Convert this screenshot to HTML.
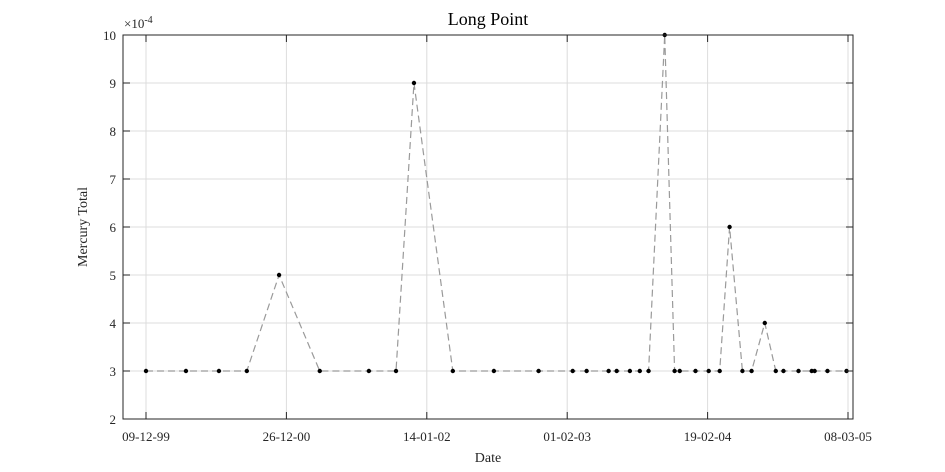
<!DOCTYPE html>
<html><head><meta charset="utf-8"><style>
body{margin:0;background:#fff}
svg{display:block;font-family:"Liberation Serif",serif}
</style></head><body>
<svg id="chart" width="945" height="472" viewBox="0 0 945 472" xmlns="http://www.w3.org/2000/svg">
<rect x="0" y="0" width="945" height="472" fill="#fff"/>
<g id="grid"></g>
<g id="series"></g>
<rect x="123" y="35" width="730" height="384" fill="none" stroke="#262626" stroke-width="1"/>
<g id="ticks"></g>
<text x="488" y="25" text-anchor="middle" font-size="18" fill="#000">Long Point</text>
<text x="488" y="462" text-anchor="middle" font-size="14" fill="#262626">Date</text>
<text transform="translate(87,227) rotate(-90)" text-anchor="middle" font-size="14" fill="#262626">Mercury Total</text>
<text x="124" y="28" font-size="13" fill="#262626">×10<tspan dy="-5" font-size="10">-4</tspan></text>
</svg>
<script>
const xTickDays=[0,383,766,1149,1532,1915];
const xTickLabels=["09-12-99","26-12-00","14-01-02","01-02-03","19-02-04","08-03-05"];
const yTicks=[2,3,4,5,6,7,8,9,10];
const sampleDays=[0,109,199,275,363,474,608,682,731,837,949,1071,1164,1202,1262,1284,1320,1347,1371,1415,1442,1456,1499,1535,1565,1592,1627,1652,1688,1718,1739,1780,1816,1824,1859,1911];
const mercuryValues=[3,3,3,3,5,3,3,3,9,3,3,3,3,3,3,3,3,3,3,10,3,3,3,3,3,6,3,3,4,3,3,3,3,3,3,3];
const NS="http://www.w3.org/2000/svg";
const X=d=>146+d*(702/1915);
const Y=v=>419-(v-2)*48;
function mk(tag,attrs,parent){const e=document.createElementNS(NS,tag);for(const k in attrs)e.setAttribute(k,attrs[k]);parent.appendChild(e);return e;}
const grid=document.getElementById('grid'),ticks=document.getElementById('ticks'),series=document.getElementById('series');
xTickDays.forEach((d,i)=>{
  const gl=mk('line',{x1:X(d),x2:X(d),y1:35,y2:419,stroke:'#dcdcdc','stroke-width':1},grid);
  
  
  const t1=mk('line',{x1:X(d),x2:X(d),y1:419,y2:412,stroke:'#262626'},ticks);
  
  
  const t2=mk('line',{x1:X(d),x2:X(d),y1:35,y2:42,stroke:'#262626'},ticks);
  
  
  const tl=mk('text',{x:X(d),y:441,'text-anchor':'middle','font-size':13,fill:'#262626'},ticks);
  tl.textContent=xTickLabels[i];
  
  
});
yTicks.forEach(v=>{
  const gl=mk('line',{x1:123,x2:853,y1:Y(v),y2:Y(v),stroke:'#dcdcdc','stroke-width':1},grid);
  
  
  const t1=mk('line',{x1:123,x2:130,y1:Y(v),y2:Y(v),stroke:'#262626'},ticks);
  
  
  const t2=mk('line',{x1:846,x2:853,y1:Y(v),y2:Y(v),stroke:'#262626'},ticks);
  
  
  const tl=mk('text',{x:116,y:Y(v)+5,'text-anchor':'end','font-size':13,fill:'#262626'},ticks);
  tl.textContent=v;
  
  
});
const pts=sampleDays.map((d,i)=>X(d)+','+Y(mercuryValues[i])).join(' ');
const line=mk('polyline',{points:pts,fill:'none',stroke:'#9a9a9a','stroke-width':1.2,'stroke-dasharray':'7,4'},series);


sampleDays.forEach((d,i)=>{
  const c=mk('circle',{cx:X(d),cy:Y(mercuryValues[i]),r:2.2,fill:'#000'},series);
  
  
});
</script>
</body></html>
